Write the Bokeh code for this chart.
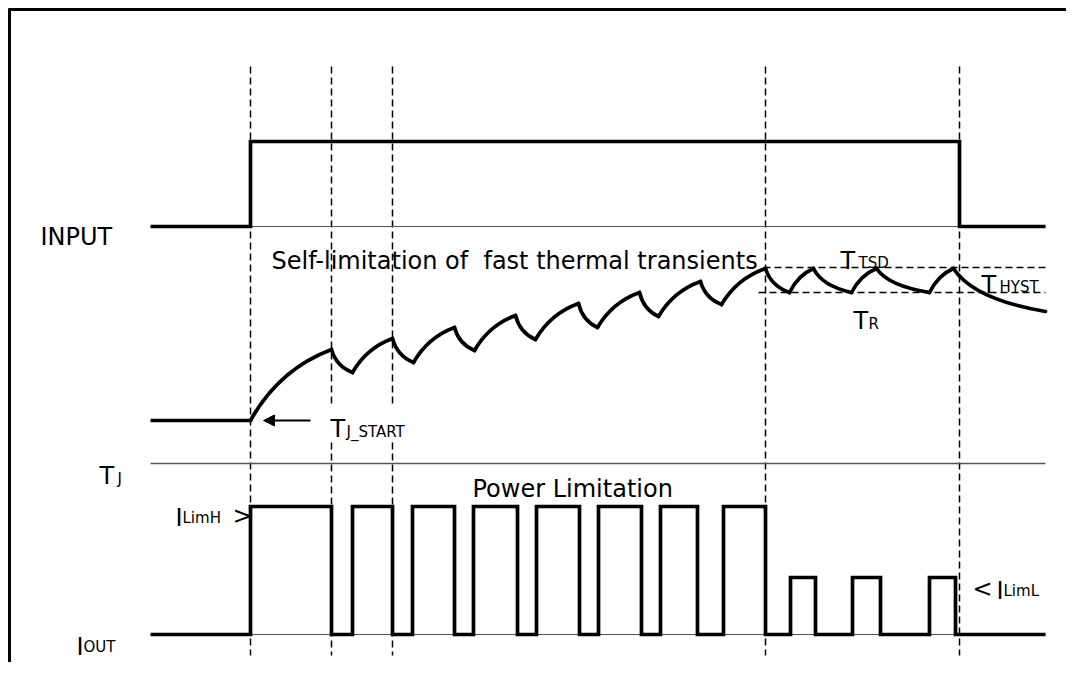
from bokeh.plotting import figure
from bokeh.models import Range1d, Arrow, NormalHead
from bokeh.core.properties import value
from bokeh.embed import file_html
from bokeh.resources import INLINE

# ---------------- diagram data (time in diagram units, levels in diagram units, y grows downward) ----
t_first, t_last = 150, 1045                 # start / end of every trace
marker_times = [250, 331, 392, 765, 959]    # dashed event markers

# INPUT
input_low, input_high = 226, 141
input_on, input_off = 250, 959

# T_J
tj_axis = 463
tj_times = [150, 250, 331, 352, 392, 413, 454, 474, 515, 535, 578, 597, 639, 658,
            700, 721, 765, 789, 813, 851, 876, 929, 953, 1045]
tj_levels = [420, 420, 349, 372, 338, 362, 327, 350, 315, 339, 303, 327, 292, 316,
             281, 304, 268, 292, 268, 292, 268, 292, 268, 311]
tsd_level, tr_level = 267, 292
thresholds_from = 760
tj_start_arrow = [310, 263]   # from, to (time)
tj_start_level = 420

# I_OUT
iout_low, iout_limh, iout_liml = 634, 506, 577
iout_edges = [150, 250, 331, 352, 392, 412, 454, 473, 517, 536, 579, 598, 641, 660,
              697, 723, 765, 790, 815, 852, 880, 929, 955, 1045]
iout_states = ["0", "H", "0", "H", "0", "H", "0", "H", "0", "H", "0", "H", "0", "H",
               "0", "H", "0", "L", "0", "L", "0", "L", "0"]

# texts
big_texts = ["INPUT", "Self-limitation of \u00a0fast thermal transients", "T", "T", "T", "T",
             "T", "Power Limitation", "I", ">", "I", "<", "I"]
small_texts = ["TSD", "HYST", "R", "J_START", "J", "LimH", "OUT", "LimL"]

# ---------------- layout (text positions) ----------------
big_x = [40, 271, 840, 981, 853, 330, 99, 472, 175, 232, 76, 972, 996]
big_y = [236, 260, 260, 284, 320, 428, 475, 488, 517, 515, 646, 588, 590]
small_x = [858, 999, 868, 346, 117, 182, 83, 1003]
small_y = [262, 286, 323, 431, 478, 517, 646, 590]

FONT = value("DejaVu Sans")
INK = "black"
THIN = "#555555"

W, H = 1066, 662
p = figure(width=W, height=H, output_backend="svg", toolbar_location=None,
           x_range=Range1d(0, W), y_range=Range1d(H, 0),
           min_border=0, outline_line_color=None)
p.axis.visible = False
p.grid.visible = False
p.background_fill_color = "white"
p.border_fill_color = "white"

# frame of the figure box
p.line([9, 9], [8, H], line_color=INK, line_width=3)
p.line([8, W], [9, 9], line_color=INK, line_width=3)

# dashed event markers (markers 331 and 392 leave room for the T_J_START label)
gap_top, gap_bottom = 407, 442
seg_x, seg_y0, seg_y1 = [], [], []
for t in marker_times:
    if t in (331, 392):
        seg_x += [t, t]
        seg_y0 += [66, gap_bottom]
        seg_y1 += [gap_top, 655]
    else:
        seg_x.append(t)
        seg_y0.append(66)
        seg_y1.append(655)
p.segment(x0=seg_x, y0=seg_y0, x1=seg_x, y1=seg_y1, line_color=INK,
          line_width=1.5, line_dash="7 4")

# thin reference lines
p.line([input_on, t_last], [input_low, input_low], line_color=THIN, line_width=1.2)
p.line([t_first, t_last], [tj_axis, tj_axis], line_color=THIN, line_width=1.6)
p.line([input_on, t_last], [iout_low, iout_low], line_color=THIN, line_width=1.2)

# INPUT trace
p.line([t_first, input_on, input_on, input_off, input_off, t_last],
       [input_low, input_low, input_high, input_high, input_low, input_low],
       line_color=INK, line_width=3.7, line_join="miter")

# T_J thresholds
p.line([thresholds_from + 3, t_last], [tsd_level, tsd_level], line_color=INK,
       line_width=1.4, line_dash="7 4")
p.line([thresholds_from - 2, t_last], [tr_level, tr_level], line_color=INK,
       line_width=1.4, line_dash="7 4")

# T_J trace: flat start, then curved heating / cooling segments
p.line(tj_times[:2], tj_levels[:2], line_color=INK, line_width=3.7)
x0s, y0s, x1s, y1s, cxs, cys = [], [], [], [], [], []
for i in range(1, len(tj_times) - 1):
    xa, ya, xb, yb = tj_times[i], tj_levels[i], tj_times[i + 1], tj_levels[i + 1]
    dx, dy = xb - xa, yb - ya
    if yb < ya:      # heating: steep start, flattening
        cx, cy = xa + 0.35 * dx, ya + 0.72 * dy
    else:            # cooling: steep drop, then slower
        cx, cy = xa + 0.22 * dx, ya + 0.72 * dy
    x0s.append(xa); y0s.append(ya); x1s.append(xb); y1s.append(yb)
    cxs.append(cx); cys.append(cy)
p.quadratic(x0=x0s, y0=y0s, x1=x1s, y1=y1s, cx=cxs, cy=cys,
            line_color=INK, line_width=3.7, line_cap="round")

# T_J_START arrow
p.add_layout(Arrow(end=NormalHead(size=11, fill_color=INK, line_color=INK),
                   x_start=tj_start_arrow[0], y_start=tj_start_level,
                   x_end=tj_start_arrow[1], y_end=tj_start_level,
                   line_color=INK, line_width=2))

# I_OUT trace
level_of = {"0": iout_low, "H": iout_limh, "L": iout_liml}
ix, iy = [], []
for i, s in enumerate(iout_states):
    lv = level_of[s]
    ix += [iout_edges[i], iout_edges[i + 1]]
    iy += [lv, lv]
p.line(ix, iy, line_color=INK, line_width=3.7, line_join="miter")

# texts
p.text(x=big_x, y=big_y, text=big_texts, text_font=FONT, text_font_size="24px",
       text_color=INK, text_baseline="alphabetic", text_align="left")
p.text(x=small_x, y=small_y, text=small_texts, text_font=FONT, text_font_size="15px",
       text_color=INK, text_baseline="alphabetic", text_align="left")

open("out.html", "w").write(file_html(p, INLINE))
